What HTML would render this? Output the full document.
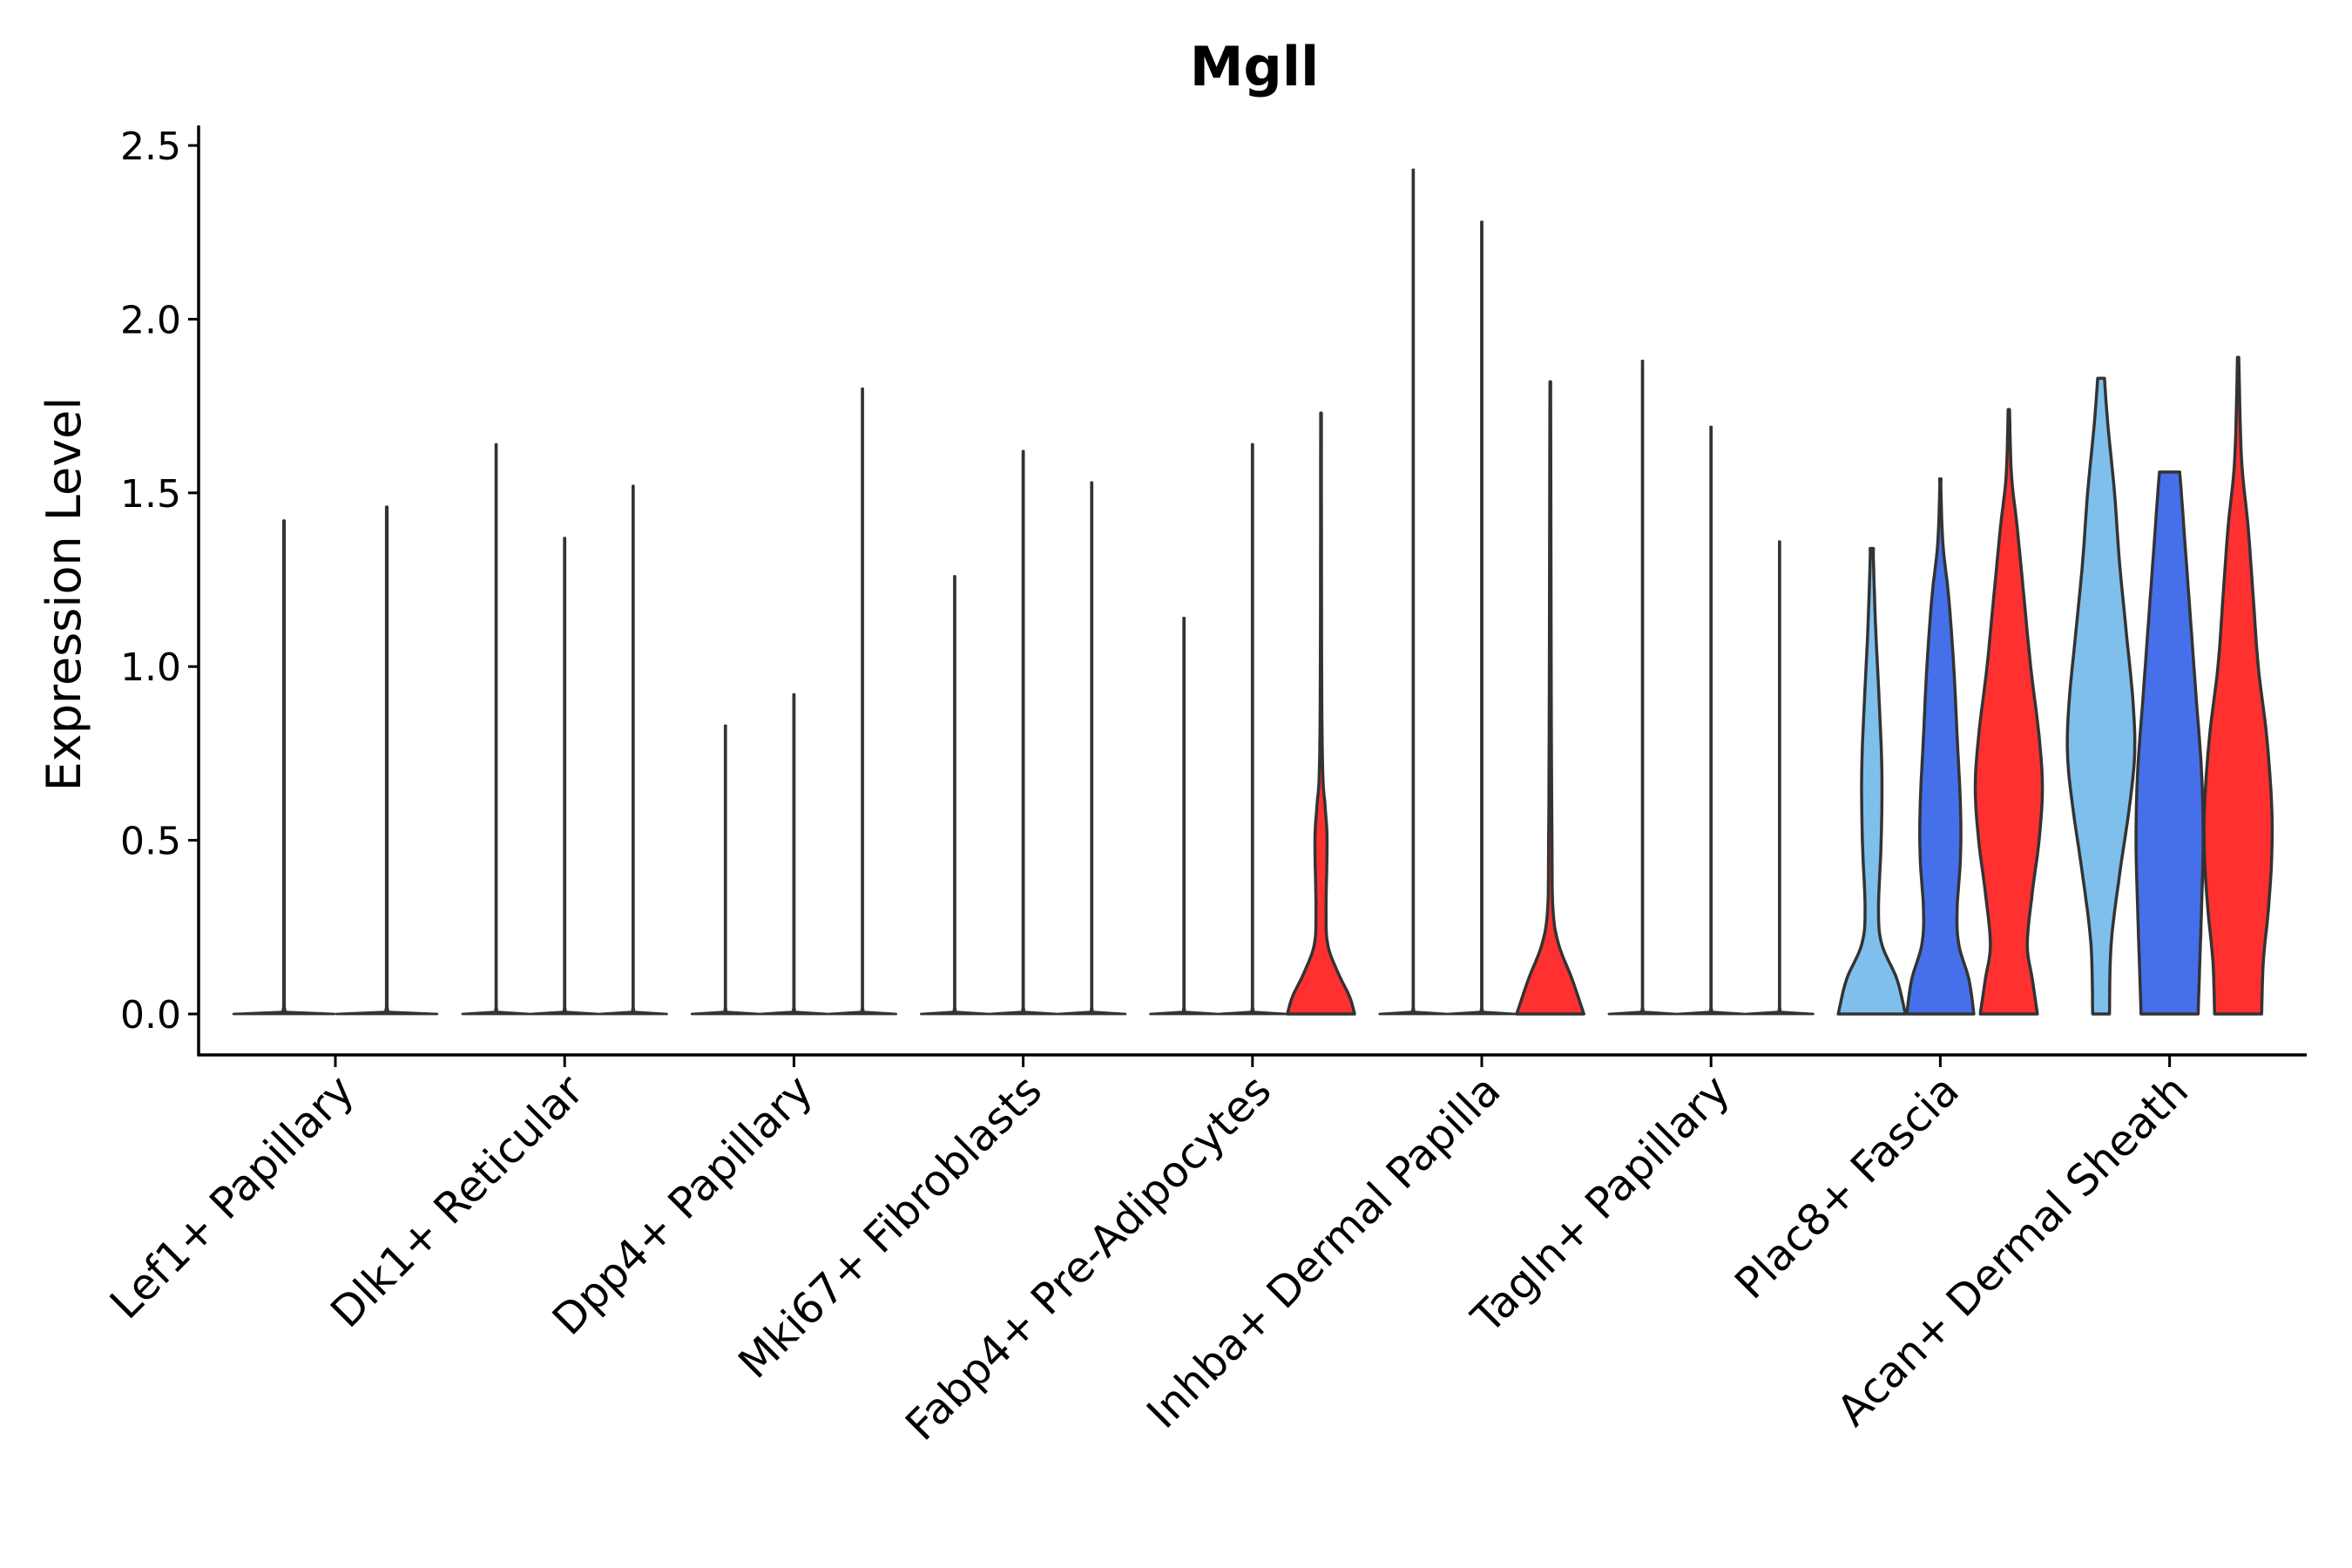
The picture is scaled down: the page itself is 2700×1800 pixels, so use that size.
<!DOCTYPE html>
<html><head><meta charset="utf-8"><style>
html,body{margin:0;padding:0;background:#fff;}
svg{display:block;font-family:"DejaVu Sans","Liberation Sans",sans-serif;}
</style></head>
<body>
<svg id="chart" width="2700" height="1800" viewBox="0 0 2700 1800">
<text x="1440" y="98" text-anchor="middle" font-size="62" font-weight="bold">Mgll</text>
<text transform="translate(92,682) rotate(-90)" text-anchor="middle" font-size="54">Expression Level</text>
<g id="marks"></g>
<g id="axes"></g>
</svg>
<script>
const categories = ["Lef1+ Papillary","Dlk1+ Reticular","Dpp4+ Papillary","Mki67+ Fibroblasts","Fabp4+ Pre-Adipocytes","Inhba+ Dermal Papilla","Tagln+ Papillary","Plac8+ Fascia","Acan+ Dermal Sheath"];
const maxValues = [[1.42,1.46],[1.64,1.37,1.52],[0.83,0.92,1.80],[1.26,1.62,1.53],[1.14,1.64,1.73],[2.43,2.28,1.82],[1.88,1.69,1.36],[1.34,1.54,1.74],[1.83,1.56,1.89]];
const yTicks = [0,0.5,1.0,1.5,2.0,2.5];
const yTickLabels = ["0.0","0.5","1.0","1.5","2.0","2.5"];
const profileFabp4Red = [[0,1],[0.05,0.85],[0.12,0.5],[0.2,0.2],[0.3,0.15],[0.5,0.18],[0.6,0.12],[0.7,0.05],[1.0,0.02],[1.73,0.01]];
const profileInhbaRed = [[0,1],[0.1,0.65],[0.2,0.25],[0.3,0.08],[0.5,0.05],[0.9,0.03],[1.82,0.01]];
const profilePlac8Light = [[0,1],[0.1,0.75],[0.2,0.3],[0.3,0.2],[0.5,0.28],[0.7,0.3],[0.9,0.22],[1.1,0.12],[1.3,0.05],[1.34,0.05]];
const profilePlac8Blue = [[0,1],[0.1,0.85],[0.2,0.55],[0.3,0.5],[0.45,0.6],[0.6,0.6],[0.8,0.5],[1.0,0.4],[1.2,0.25],[1.35,0.08],[1.5,0.02],[1.54,0.02]];
const profilePlac8Red = [[0,0.85],[0.1,0.7],[0.2,0.55],[0.35,0.7],[0.5,0.9],[0.65,1],[0.8,0.9],[1.0,0.65],[1.2,0.45],[1.4,0.25],[1.55,0.08],[1.74,0.02]];
const profileAcanLight = [[0,0.25],[0.2,0.3],[0.4,0.55],[0.6,0.85],[0.75,1],[0.9,0.95],[1.1,0.75],[1.3,0.55],[1.5,0.4],[1.7,0.2],[1.83,0.1]];
const profileAcanBlue = [[0,0.85],[0.15,0.9],[0.3,0.95],[0.5,1],[0.7,0.95],[0.9,0.8],[1.1,0.65],[1.3,0.5],[1.5,0.35],[1.56,0.3]];
const profileAcanRed = [[0,0.7],[0.15,0.75],[0.3,0.9],[0.45,1],[0.6,1],[0.8,0.85],[1.0,0.6],[1.2,0.45],[1.4,0.3],[1.6,0.1],[1.89,0.02]];
const profiles = [[null,null],[null,null,null],[null,null,null],[null,null,null],[null,null,profileFabp4Red],[null,null,profileInhbaRed],[null,null,null],[profilePlac8Light,profilePlac8Blue,profilePlac8Red],[profileAcanLight,profileAcanBlue,profileAcanRed]];
const subColors = ["#7FBFEC","#4570EA","#FF3030"];

const NS="http://www.w3.org/2000/svg";
const X0=228, X1=2648, Ytop=144, Ybot=1211;
const Y0=1164, Y25=167;
const yScale=v=>Y0 - v*(Y0-Y25)/2.5;
const xCat=i=>385 + i*263.2;
const dodge=236;
function mk(tag,attrs,parent){const e=document.createElementNS(NS,tag);for(const k in attrs)e.setAttribute(k,attrs[k]);parent.appendChild(e);return e;}
const marks=document.getElementById('marks'), axes=document.getElementById('axes');

function smooth(p){
  if(p.length<3) return p;
  const out=[];
  for(let k=0;k<p.length-1;k++){
    const a=p[Math.max(0,k-1)], b=p[k], c=p[k+1], d=p[Math.min(p.length-1,k+2)];
    for(let s=0;s<8;s++){
      const t=s/8, t2=t*t, t3=t2*t;
      const f=(i)=>0.5*((2*b[i])+(-a[i]+c[i])*t+(2*a[i]-5*b[i]+4*c[i]-d[i])*t2+(-a[i]+3*b[i]-3*c[i]+d[i])*t3);
      out.push([f(0),Math.max(0.01,f(1))]);
    }
  }
  out.push(p[p.length-1]);
  return out;
}

categories.forEach((c,i)=>{
  const n=maxValues[i].length, slot=dodge/n, hw=slot/2*0.98;
  maxValues[i].forEach((mv,j)=>{
    const cx=xCat(i)-dodge/2+slot*(j+0.5);
    const prof=profiles[i][j];
    let pts;
    if(prof){
      const last=prof[prof.length-1];
      pts=smooth(prof.concat(last[0]<mv?[[mv,last[1]]]:[]));
    } else {
      pts=[[0,1],[0.006,0.03],[0.02,0.012],[mv,0.012]];
    }
    const L=pts.map(p=>(cx-p[1]*hw).toFixed(1)+","+yScale(p[0]).toFixed(1));
    const R=pts.slice().reverse().map(p=>(cx+p[1]*hw).toFixed(1)+","+yScale(p[0]).toFixed(1));
    const fill=prof?subColors[j]:"#333";
    const el=mk('polygon',{points:L.concat(R).join(" "),fill:fill,stroke:"#333","stroke-width":prof?3.5:2.8,"stroke-linejoin":"round"},marks);
    
    
  });
});

const ya=mk('line',{x1:X0,y1:Ytop,x2:X0,y2:Ybot+1.5,stroke:"#000","stroke-width":3.5},axes);


const xa=mk('line',{x1:X0-1.5,y1:Ybot,x2:X1,y2:Ybot,stroke:"#000","stroke-width":3.5},axes);


yTicks.forEach((v,k)=>{
  const y=yScale(v);
  mk('line',{x1:X0-12,y1:y,x2:X0,y2:y,stroke:"#000","stroke-width":3},axes);
  const t=mk('text',{x:X0-20,y:y+16,"text-anchor":"end","font-size":44},axes);
  t.textContent=yTickLabels[k];
  
  
});
categories.forEach((c,i)=>{
  const x=xCat(i);
  mk('line',{x1:x,y1:Ybot,x2:x,y2:Ybot+14,stroke:"#000","stroke-width":3},axes);
  const t=mk('text',{transform:`translate(${x+24},${Ybot+44}) rotate(-45)`,"text-anchor":"end","font-size":49},axes);
  t.textContent=c;
  
  
});
</script>
</body></html>
